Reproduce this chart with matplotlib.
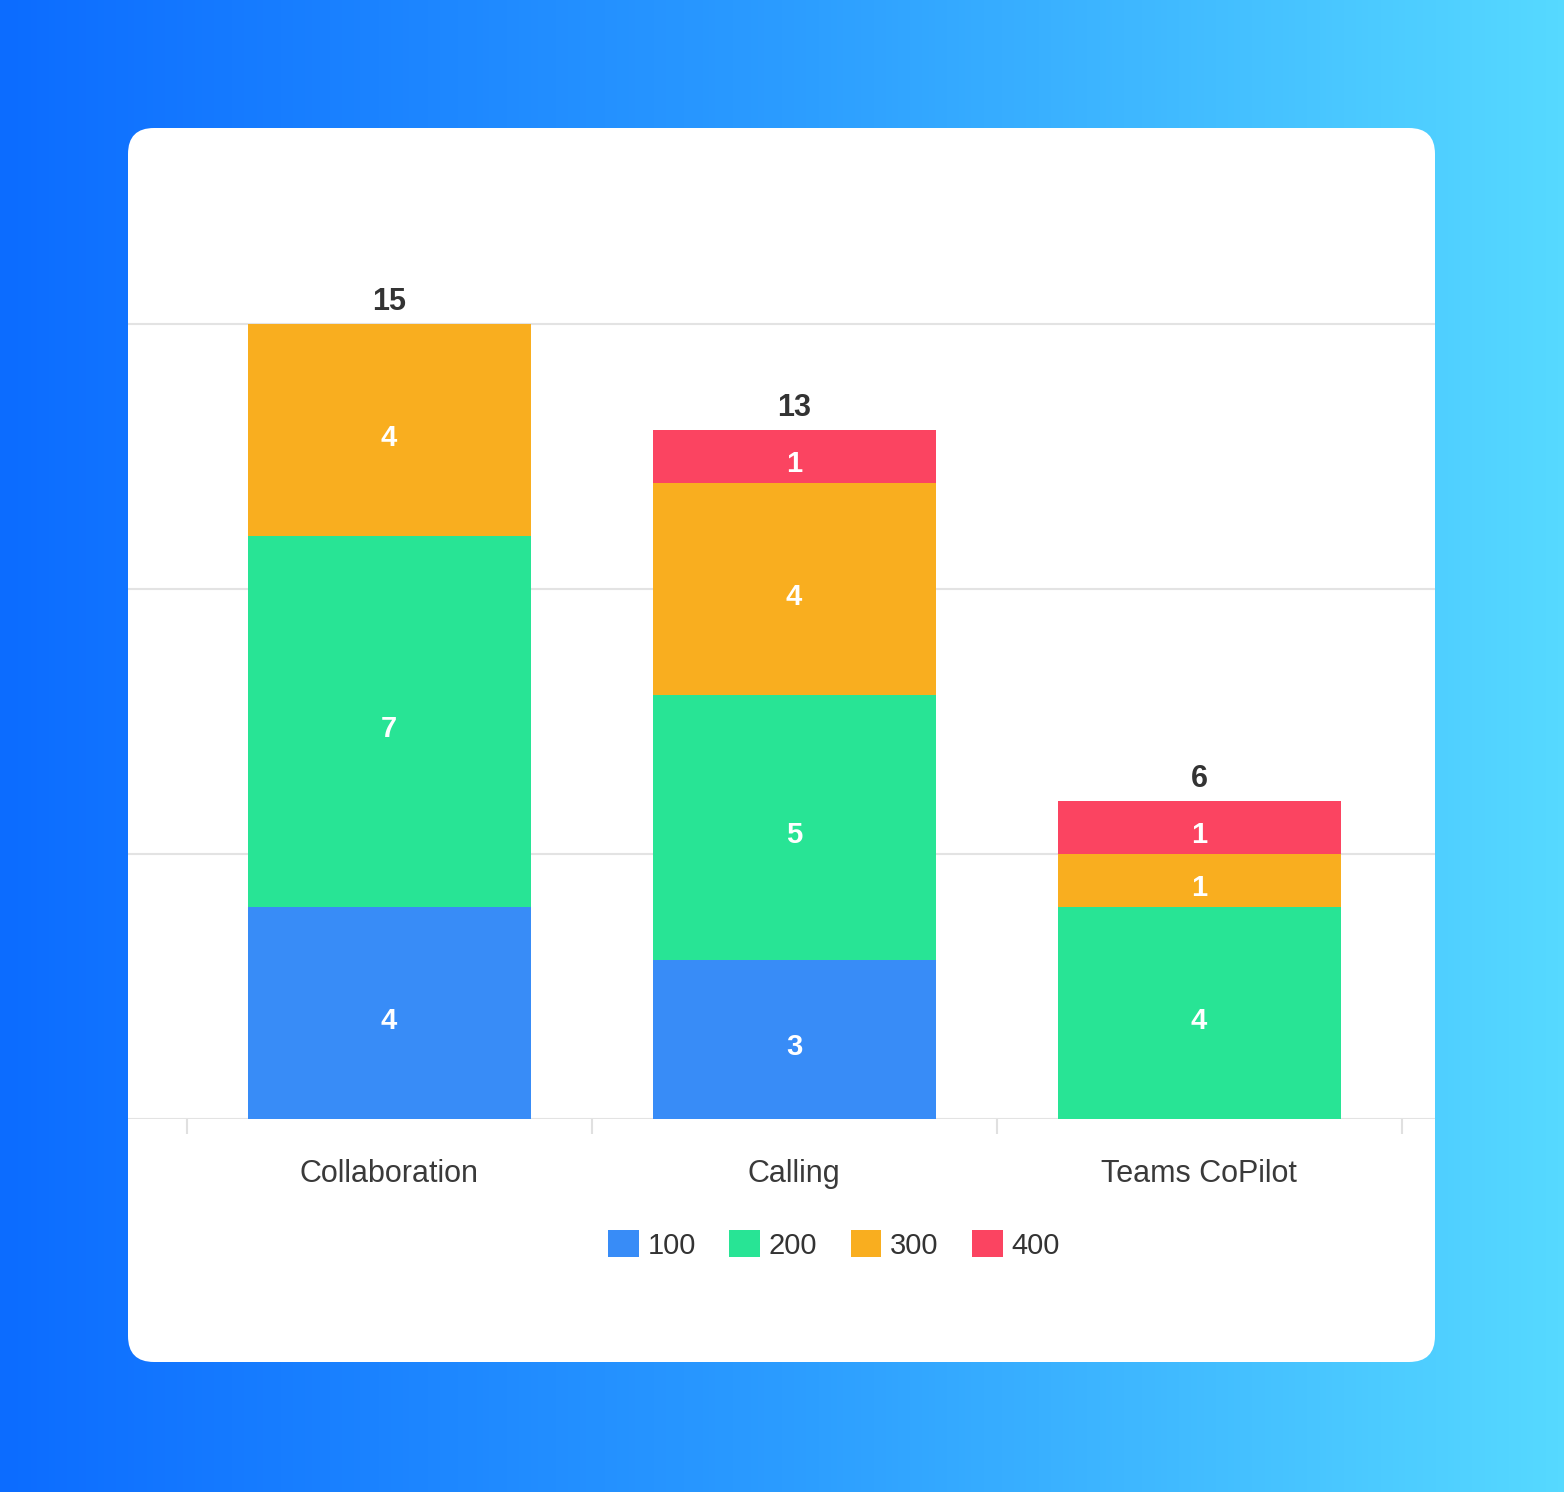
import numpy as np
import matplotlib
matplotlib.use('Agg')
import matplotlib.pyplot as plt
from matplotlib.patches import FancyBboxPatch, Patch
from matplotlib.colors import LinearSegmentedColormap

plt.rcParams['font.family'] = ['Liberation Sans', 'DejaVu Sans']

categories = ['Collaboration', 'Calling', 'Teams CoPilot']
series_names = ['100', '200', '300', '400']
values_100 = [4, 3, 0]
values_200 = [7, 5, 4]
values_300 = [4, 4, 1]
values_400 = [0, 1, 1]
colors = ['#388cf7', '#28e495', '#f9ae1f', '#fb4461']

W, H = 1564, 1492
fig = plt.figure(figsize=(W / 100, H / 100), dpi=100)

# background gradient + white card
bg = fig.add_axes([0, 0, 1, 1])
bg.set_xlim(0, W)
bg.set_ylim(H, 0)
bg.axis('off')
grad = np.linspace(0, 1, 256).reshape(1, -1)
cmap = LinearSegmentedColormap.from_list('bg', ['#0c6cff', '#2b9cff', '#56d9ff'])
bg.imshow(grad, extent=[0, W, H, 0], aspect='auto', cmap=cmap, zorder=0)
card = FancyBboxPatch((128, 128), 1435 - 128, 1362 - 128,
                      boxstyle='round,pad=0,rounding_size=26',
                      facecolor='white', edgecolor='none', zorder=1)
bg.add_patch(card)

# chart axes
y0_px, top_px = 1118.5, 150
ax = fig.add_axes([128 / W, (H - y0_px) / H, (1435 - 128) / W, (y0_px - top_px) / H])
ax.patch.set_alpha(0)
unit = 265 / 5
ax.set_ylim(0, (y0_px - top_px) / unit)
ax.set_xlim(-261 / 405, 2 + 236 / 405)

x = np.arange(len(categories))
series = [values_100, values_200, values_300, values_400]
bottom = np.zeros(len(categories))
bar_w = 283 / 405
for name, vals, col in zip(series_names, series, colors):
    vals = np.array(vals, dtype=float)
    ax.bar(x, vals, bar_w, bottom=bottom, color=col, label=name, zorder=3, linewidth=0)
    for xi, v, b in zip(x, vals, bottom):
        if v > 0:
            ax.annotate(f'{int(v)}', (xi, b + v / 2), xytext=(0, -6), textcoords='offset points',
                        ha='center', va='center', color='white', fontsize=21,
                        fontweight='bold', zorder=4)
    bottom += vals

for xi, t in zip(x, bottom):
    ax.annotate(f'{int(t)}', (xi, t), xytext=(0, 5), textcoords='offset points',
                ha='center', va='bottom', fontsize=22, fontweight='bold', color='#333333')

ax.set_yticks([0, 5, 10, 15])
ax.yaxis.grid(True, color='#e3e3e3', linewidth=1.5, zorder=0)
ax.tick_params(axis='y', length=0, labelleft=False)
for s in ax.spines.values():
    s.set_visible(False)

ax.set_xticks(x)
ax.set_xticklabels(categories, fontsize=22, color='#3a3a3a')
ax.set_xticks([-0.5, 0.5, 1.5, 2.5], minor=True)
ax.tick_params(axis='x', which='major', length=0, pad=29)
ax.tick_params(axis='x', which='minor', length=11, width=1.5, color='#e0e0e0')

handles = [Patch(facecolor=c, edgecolor='none', label=n) for n, c in zip(series_names, colors)]
fig.legend(handles=handles, loc='center', bbox_to_anchor=(834 / W, (H - 1245) / H), ncol=4,
           frameon=False, fontsize=21, handlelength=1.05, handleheight=1.05,
           handletextpad=0.3, columnspacing=1.15, labelcolor='#333333')

fig.savefig('out.png', dpi=100)
